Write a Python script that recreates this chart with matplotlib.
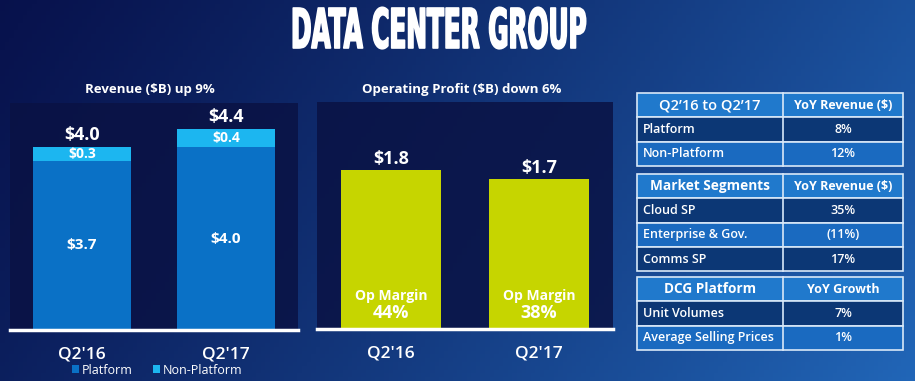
import numpy as np
import matplotlib
matplotlib.use("Agg")
import matplotlib.pyplot as plt
from matplotlib.patches import Rectangle
from matplotlib.patheffects import AbstractPathEffect
from matplotlib.transforms import Affine2D

plt.rcParams['font.family'] = ['Open Sans', 'DejaVu Sans']

# data
quarters = ["Q2'16", "Q2'17"]
platform = [3.7, 4.0]
non_platform = [0.3, 0.4]
rev_total = [4.0, 4.4]
op_profit = [1.8, 1.7]
op_margin = [44, 38]

tbl1_head = ("Q2\u201916 to Q2\u201917", "YoY Revenue ($)")
tbl1_rows = [("Platform", "8%"), ("Non-Platform", "12%")]
tbl2_head = ("Market Segments", "YoY Revenue ($)")
tbl2_rows = [("Cloud SP", "35%"), ("Enterprise & Gov.", "(11%)"), ("Comms SP", "17%")]
tbl3_head = ("DCG Platform", "YoY Growth")
tbl3_rows = [("Unit Volumes", "7%"), ("Average Selling Prices", "1%")]

W, H = 915, 381
C_PLAT = '#0a71c6'
C_NONPLAT = '#1cb6f0'
C_PROFIT = '#c6d500'
C_PANEL = '#0a1244'
C_HEAD = '#2079cc'
C_DARK = '#0c3775'
C_LIGHT = '#1a6ac0'
C_LINE = '#d8e8f8'


class Squeeze(AbstractPathEffect):
    """draw the text path narrower (condensed look) and a bit heavier"""
    def __init__(self, sx, lw=0.0):
        super().__init__()
        self.sx = sx
        self.lw = lw

    def draw_path(self, renderer, gc, tpath, affine, rgbFace=None):
        ext = tpath.get_extents(affine)
        cx = (ext.x0 + ext.x1) / 2
        aff = affine + Affine2D().translate(-cx, 0).scale(self.sx, 1).translate(cx, 0)
        gc0 = renderer.new_gc()
        gc0.copy_properties(gc)
        gc0.set_linewidth(self.lw)
        gc0.set_foreground(rgbFace)
        renderer.draw_path(gc0, tpath, aff, rgbFace)
        gc0.restore()


fig = plt.figure(figsize=(W / 100, H / 100), dpi=100)

# background gradient, also used as a pixel canvas for the tables
bg = fig.add_axes([0, 0, 1, 1])
xx, yy = np.meshgrid(np.linspace(0, 1, 200), np.linspace(0, 1, 100))
t = np.clip(0.78 * xx + 0.22 * yy, 0, 1) ** 1.2
c0 = np.array([0.03, 0.07, 0.30])
c1 = np.array([0.13, 0.40, 0.72])
img = c0[None, None, :] * (1 - t[..., None]) + c1[None, None, :] * t[..., None]
bg.imshow(img, extent=[0, W, H, 0], aspect='auto', zorder=0)
bg.set_xlim(0, W)
bg.set_ylim(H, 0)
bg.axis('off')


def px_axes(x0, x1, ytop, ybot):
    return fig.add_axes([x0 / W, 1 - ybot / H, (x1 - x0) / W, (ybot - ytop) / H])


def style(ax):
    ax.set_facecolor(C_PANEL)
    ax.patch.set_alpha(0.85)
    for s in ['top', 'left', 'right']:
        ax.spines[s].set_visible(False)
    ax.spines['bottom'].set_color('white')
    ax.spines['bottom'].set_linewidth(2.5)
    ax.set_yticks([])
    ax.set_xlim(-0.5, 1.5)
    ax.set_xticks(range(len(quarters)))
    ax.set_xticklabels(quarters)
    ax.tick_params(axis='x', length=0, pad=12, labelsize=12.5, labelcolor='white')
    for lb in ax.get_xticklabels():
        lb.set_fontweight('semibold')


x = np.arange(len(quarters))

# revenue
ax1 = px_axes(10, 298, 103, 330)
style(ax1)
ax1.set_ylim(0, 227 / 45.75)
b1 = ax1.bar(x, platform, width=0.68, color=C_PLAT, label='Platform')
b2 = ax1.bar(x, non_platform, width=0.68, bottom=platform, color=C_NONPLAT, label='Non-Platform')
for i in range(len(x)):
    ax1.text(x[i], platform[i] / 2, f"${platform[i]:.1f}", ha='center', va='center',
             color='white', fontsize=11, fontweight='bold')
    ax1.text(x[i], platform[i] + non_platform[i] / 2, f"${non_platform[i]:.1f}", ha='center',
             va='center', color='white', fontsize=10, fontweight='bold')
    ax1.annotate(f"${rev_total[i]:.1f}", (x[i], rev_total[i]), xytext=(0, 7),
                 textcoords='offset pixels', ha='center', va='baseline',
                 color='white', fontsize=13, fontweight='bold')
fig.text(150 / W, 1 - 89 / H, "Revenue ($B) up 9%", ha='center', va='center',
         color='white', fontsize=9.5, fontweight='bold')
fig.legend(handles=[b1, b2], loc='center', bbox_to_anchor=(157 / W, 1 - 370 / H),
           ncol=2, frameon=False, fontsize=9, labelcolor='white', handlelength=0.6,
           handleheight=0.6, handletextpad=0.2, columnspacing=1.6)

# operating profit
ax2 = px_axes(317, 613, 102, 329)
style(ax2)
ax2.set_ylim(0, 227 / 88.5)
ax2.bar(x, op_profit, width=0.676, color=C_PROFIT)
for i in range(len(x)):
    ax2.annotate(f"${op_profit[i]:.1f}", (x[i], op_profit[i]), xytext=(0, 6),
                 textcoords='offset pixels', ha='center', va='baseline',
                 color='white', fontsize=13, fontweight='bold')
    ax2.annotate("Op Margin", (x[i], 0), xytext=(0, 33), textcoords='offset pixels',
                 ha='center', va='center', color='white', fontsize=10, fontweight='bold')
    ax2.annotate(f"{op_margin[i]}%", (x[i], 0), xytext=(0, 16), textcoords='offset pixels',
                 ha='center', va='center', color='white', fontsize=13, fontweight='bold')
fig.text(462 / W, 1 - 89 / H, "Operating Profit ($B) down 6%", ha='center', va='center',
         color='white', fontsize=9.5, fontweight='bold')

# big title
fig.text(438 / W, 1 - 48 / H, "DATA CENTER GROUP", ha='center', va='baseline',
         color='white', fontsize=39.5, fontweight='bold', family='DejaVu Sans',
         path_effects=[Squeeze(0.45, 1.2)])

# tables
TX0, TXM, TX1 = 637, 783, 903
RH = 24.3


def draw_table(top, head, rows, head_left_weight, head_left_size):
    cells = [(head, C_HEAD)] + [(r, C_DARK if k % 2 == 0 else C_LIGHT) for k, r in enumerate(rows)]
    for k, (row, col) in enumerate(cells):
        y = top + k * RH
        bg.add_patch(Rectangle((TX0, y), TX1 - TX0, RH, facecolor=col,
                               edgecolor=C_LINE, lw=1.2, zorder=2))
        bg.plot([TXM, TXM], [y, y + RH], color=C_LINE, lw=1.2, zorder=3)
        yc = y + RH / 2
        if k == 0:
            bg.text((TX0 + TXM) / 2, yc, row[0], ha='center', va='center', color='white',
                    fontsize=head_left_size, fontweight=head_left_weight, zorder=4)
            bg.text((TXM + TX1) / 2, yc, row[1], ha='center', va='center', color='white',
                    fontsize=9, fontweight='bold', zorder=4)
        else:
            bg.text(TX0 + 6, yc, row[0], ha='left', va='center', color='white',
                    fontsize=9, fontweight='semibold', zorder=4)
            bg.text((TXM + TX1) / 2, yc, row[1], ha='center', va='center', color='white',
                    fontsize=9, fontweight='semibold', zorder=4)


draw_table(93, tbl1_head, tbl1_rows, 'semibold', 10.5)
draw_table(174, tbl2_head, tbl2_rows, 'bold', 9.8)
draw_table(277, tbl3_head, tbl3_rows, 'bold', 9.8)

fig.savefig('out.png', dpi=100)
